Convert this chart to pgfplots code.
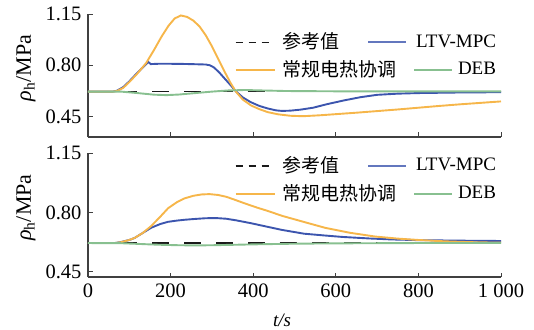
\documentclass[border=0pt]{standalone}
\usepackage{fontspec}
\setmainfont{Liberation Serif}
\newfontfamily\cjk{Noto Sans CJK SC}
\usepackage{pgfplots}
\pgfplotsset{compat=1.18}

\definecolor{refblack}{HTML}{1A1A1A}
\definecolor{mpcblue}{HTML}{3C55AE}
\definecolor{coordorange}{HTML}{F6B64A}
\definecolor{debgreen}{HTML}{88C090}
\definecolor{axisgray}{HTML}{404040}

% t (s), p_h (MPa)
\pgfplotstableread{
t p
0 0.62
1000 0.62
}\refA
\pgfplotstableread{
t p
0 0.62
60 0.62
70 0.626
85 0.650
100 0.690
120 0.750
140 0.805
146 0.822
152 0.808
170 0.810
200 0.810
230 0.809
260 0.807
285 0.805
295 0.800
305 0.785
318 0.750
330 0.712
345 0.665
358 0.622
375 0.580
394 0.548
415 0.522
435 0.505
455 0.492
470 0.488
490 0.490
515 0.497
545 0.510
580 0.535
620 0.560
660 0.582
700 0.598
750 0.606
800 0.610
900 0.614
1000 0.616
}\mpcA
\pgfplotstableread{
t p
0 0.62
60 0.620
70 0.624
85 0.645
100 0.685
120 0.745
141 0.816
160 0.905
178 0.995
195 1.070
210 1.120
225 1.140
240 1.130
255 1.105
270 1.065
285 1.005
300 0.930
315 0.845
330 0.760
345 0.680
358 0.620
375 0.565
395 0.525
415 0.500
435 0.480
460 0.465
490 0.455
520 0.452
560 0.458
600 0.466
650 0.476
700 0.487
750 0.498
800 0.510
850 0.522
900 0.533
950 0.543
1000 0.553
}\coordA
\pgfplotstableread{
t p
0 0.620
80 0.620
120 0.610
160 0.599
190 0.596
220 0.600
260 0.610
300 0.620
340 0.628
380 0.631
420 0.628
480 0.624
600 0.622
1000 0.622
}\debA
\pgfplotstableread{
t p
0 0.620
65 0.620
80 0.626
100 0.638
113 0.650
133 0.680
153 0.710
175 0.732
194 0.745
215 0.752
234 0.757
260 0.762
285 0.766
310 0.767
335 0.763
360 0.753
394 0.737
430 0.718
470 0.697
523 0.675
570 0.665
615 0.656
680 0.647
736 0.641
800 0.637
900 0.634
1000 0.632
}\mpcB
\pgfplotstableread{
t p
0 0.620
65 0.620
80 0.625
100 0.638
113 0.650
133 0.680
153 0.720
175 0.775
194 0.825
215 0.860
234 0.883
255 0.898
275 0.906
294 0.908
315 0.903
335 0.892
354 0.876
380 0.853
410 0.828
434 0.810
470 0.780
523 0.744
575 0.709
635 0.680
696 0.658
750 0.646
800 0.638
864 0.630
930 0.625
1000 0.622
}\coordB
\pgfplotstableread{
t p
0 0.620
80 0.619
120 0.615
170 0.610
220 0.607
260 0.606
300 0.607
360 0.610
420 0.613
500 0.616
600 0.618
700 0.619
800 0.620
1000 0.620
}\debB

\pgfplotsset{
  panel/.style={
    scale only axis, width=413pt,
    xmin=0, xmax=1000,
    axis x line*=bottom, axis y line*=left,
    axis line style={line width=1.2pt, axisgray, -},
    tick style={line width=1pt, axisgray},
    tick align=inside, major tick length=4.5pt,
    tick label style={font=\fontsize{20.5}{24}\selectfont},
    xtick={0,200,400,600,800,1000},
    ytick={0.45,0.80,1.15},
    yticklabels={0.45,0.80,1.15},
    every axis y label/.style={at={(axis description cs:-0.15,0.56)}, rotate=90, anchor=center,
      font=\fontsize{22}{26}\selectfont},
    ylabel={{\itshape ρ}\textsubscript{h}/MPa},
    legend columns=2,
    legend style={draw=none, fill=none, inner sep=0pt, row sep=5pt,
      /tikz/every even column/.append style={column sep=3pt}},
    legend cell align=left,
  },
  refline/.style={refblack, line width=1.5pt, dash pattern=on 17pt off 15pt,
    legend image code/.code={\draw[refblack, line width=1.5pt, dash pattern=on 7pt off 6pt] (0pt,0pt) -- (39pt,0pt);}},
  mpcline/.style={mpcblue, line width=1.9pt,
    legend image code/.code={\draw[mpcblue!80, line width=1.6pt] (0pt,0pt) -- (38pt,0pt);}},
  coordline/.style={coordorange, line width=1.9pt,
    legend image code/.code={\draw[coordorange, line width=1.6pt] (0pt,0pt) -- (39pt,0pt);}},
  debline/.style={debgreen, line width=1.9pt,
    legend image code/.code={\draw[debgreen, line width=1.6pt] (46pt,0pt) -- (84pt,0pt);}},
}
\newcommand{\colA}[1]{\hspace*{5pt}\makebox[80pt][l]{\cjk #1}}
\newcommand{\colB}[1]{\hspace*{4pt}\makebox[37pt][r]{#1}}

\begin{document}
\fontsize{19}{22}\selectfont
\begin{tikzpicture}
\begin{axis}[panel, at={(0pt,0pt)}, anchor=south west, height=123pt,
  ymin=0.31, ymax=1.15, xticklabels={},
  legend style={at={(rel axis cs:0.355,0.865)}, anchor=north west}]
\addplot[refline] table[x=t, y=p] {\refA};
\addlegendentry{\colA{参考值}}
\addplot[mpcline] table[x=t, y=p] {\mpcA};
\addlegendentry{\colB{LTV-MPC}}
\addplot[coordline] table[x=t, y=p] {\coordA};
\addlegendentry{\colA{常规电热协调}}
\addplot[debline] table[x=t, y=p] {\debA};
\addlegendentry{\colB{DEB}}
\end{axis}
\begin{axis}[panel, at={(0pt,-140pt)}, anchor=south west, height=124pt,
  ymin=0.42, ymax=1.15,
  xticklabels={0,200,400,600,800,1 000},
  every axis x label/.style={at={(axis description cs:0.47,0)}, anchor=north, yshift=-30pt},
  xlabel={\textit{t/s}},
  legend style={at={(rel axis cs:0.355,0.99)}, anchor=north west}]
\addplot[refline] table[x=t, y=p] {\refA};
\addlegendentry{\colA{参考值}}
\addplot[mpcline] table[x=t, y=p] {\mpcB};
\addlegendentry{\colB{LTV-MPC}}
\addplot[coordline] table[x=t, y=p] {\coordB};
\addlegendentry{\colA{常规电热协调}}
\addplot[debline] table[x=t, y=p] {\debB};
\addlegendentry{\colB{DEB}}
\end{axis}
\pgfresetboundingbox
\path (-88pt,-192pt) rectangle (446pt,137pt);
\end{tikzpicture}
\end{document}
